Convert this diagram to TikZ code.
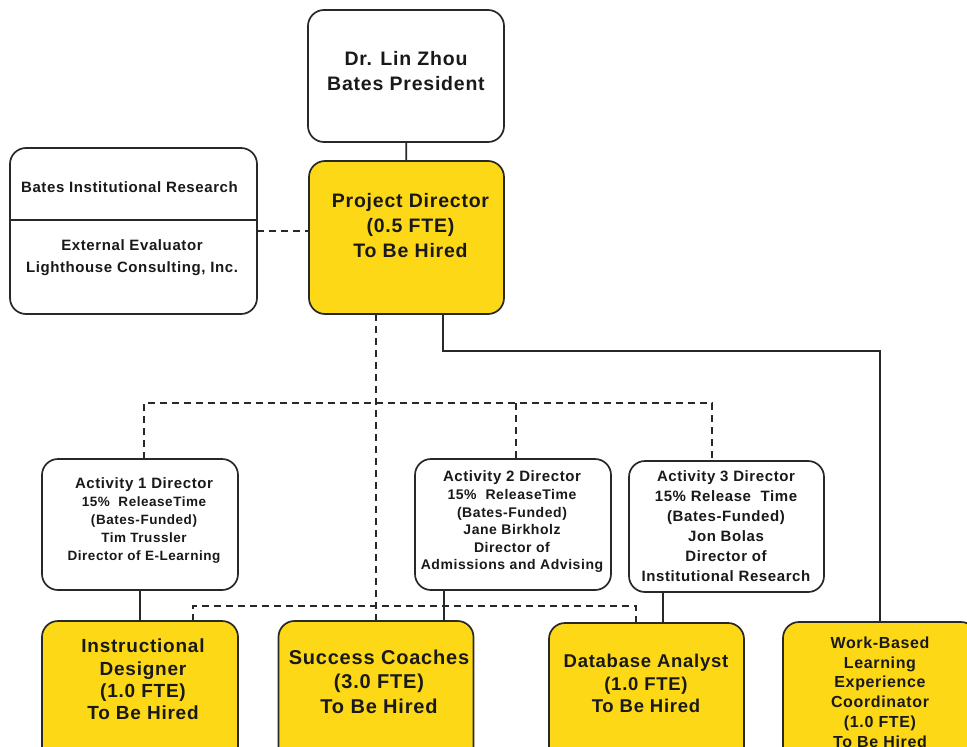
\documentclass[tikz,border=0pt]{standalone}
\usepackage{fontspec}
\setmainfont{Liberation Sans}[LetterSpace=4]
\definecolor{yel}{RGB}{253,216,22}
\definecolor{linec}{RGB}{40,40,40}
\definecolor{txtc}{RGB}{25,25,25}
\tikzset{
  box/.style={draw=linec, line width=1.7pt, rounded corners=16pt, fill=white, inner sep=0pt, outer sep=0pt},
  ybox/.style={box, fill=yel},
  txt/.style={align=center, inner sep=0pt, text=txtc, font=\bfseries},
  dline/.style={draw=linec, line width=1.8pt, dash pattern=on 7pt off 5pt},
  sline/.style={draw=linec, line width=1.7pt}
}
\newcommand{\fs}[2]{\fontsize{#1}{#2}\selectfont}
\begin{document}
\begin{tikzpicture}[x=1pt,y=-1pt]
\useasboundingbox[fill=white] (0,0) rectangle (967,747);
% boxes
\node[box,  minimum width=196pt, minimum height=132pt] (pres) at (406,76) {};
\node[ybox, minimum width=195pt, minimum height=153pt] (pd) at (406.5,237.5) {};
\node[box,  minimum width=247pt, minimum height=166pt] (ext) at (133.5,231) {};
\node[box,  minimum width=196pt, minimum height=131pt] (act1) at (140,524.5) {};
\node[box,  minimum width=196pt, minimum height=131pt] (act2) at (513,524.5) {};
\node[box,  minimum width=195pt, minimum height=131pt] (act3) at (726.5,526.5) {};
\node[ybox, minimum width=196pt, minimum height=159pt] (id) at (140,700.5) {};
\node[ybox, minimum width=195pt, minimum height=159pt] (sc) at (376,700.5) {};
\node[ybox, minimum width=195pt, minimum height=157pt] (da) at (646.5,701.5) {};
\node[ybox, minimum width=194pt, minimum height=158pt] (wb) at (880,701) {};
% divider in ext box
\coordinate (divl) at (10,220);
\coordinate (divr) at (257,220);
\draw[sline] (divl) -- (divr);
% texts
\node[txt, font=\bfseries\fs{19.5}{25}] (tpres) at (406,71.5) {Dr. Lin Zhou\\Bates President};
\node[txt, font=\bfseries\fs{19.5}{25}] (tpd) at (410.5,226) {Project Director\\(0.5 FTE)\\To Be Hired};
\node[txt, font=\bfseries\fs{15}{22}] (text1) at (129.5,187) {Bates Institutional Research};
\node[txt, font=\bfseries\fs{15}{22}] (text2) at (132,258) {External Evaluator\\Lighthouse Consulting, Inc.};
\node[txt, font=\bfseries\fs{13.5}{17.8}] (tact1) at (144,520.5) {{\fs{15}{17.8}Activity 1 Director}\\15\%\ \ ReleaseTime\\(Bates-Funded)\\Tim Trussler\\Director of E-Learning};
\node[txt, font=\bfseries\fs{14}{17.6}] (tact2) at (512,522) {{\fs{15}{17.6}Activity 2 Director}\\15\%\ \ ReleaseTime\\(Bates-Funded)\\Jane Birkholz\\Director of\\Admissions and Advising};
\node[txt, font=\bfseries\fs{15}{20}] (tact3) at (726,526) {Activity 3 Director\\15\%\ Release\ \ Time\\(Bates-Funded)\\Jon Bolas\\Director of\\Institutional Research};
\node[txt, font=\bfseries\fs{19}{22.3}] (tid) at (143,679.5) {Instructional\\Designer\\(1.0 FTE)\\To Be Hired};
\node[txt, font=\bfseries\fs{20}{24.5}] (tsc) at (379,681.5) {Success Coaches\\(3.0 FTE)\\To Be Hired};
\node[txt, font=\bfseries\fs{18.5}{22.5}] (tda) at (646,683.5) {Database Analyst\\(1.0 FTE)\\To Be Hired};
\node[txt, font=\bfseries\fs{16}{19.8}] (twb) at (880,692) {Work-Based\\Learning\\Experience\\Coordinator\\(1.0 FTE)\\To Be Hired};
% connectors
\draw[sline] (pres) -- (pd);
\draw[dline] (ext.east) -- (ext.east -| pd.west);
\draw[dline] (sc.north) -- (sc.north |- pd.south);
% dashed bus 1
\coordinate (b1l) at (144,403);
\coordinate (b1r) at (712,403);
\coordinate (b1m) at (516,403);
\draw[dline] (b1l |- act1.north) -- (b1l) -- (b1r) -- (b1r |- act3.north);
\draw[dline] (b1m) -- (b1m |- act2.north);
% solid to WB
\coordinate (w1) at (443,351);
\draw[sline] (w1 |- pd.south) -- (w1) -- (w1 -| wb.north) -- (wb.north);
% activity to hires
\draw[sline] (act1) -- (id);
\coordinate (a2d) at (444,600);
\draw[sline] (a2d |- act2.south) -- (a2d |- sc.north);
\coordinate (a3d) at (663,600);
\draw[sline] (a3d |- act3.south) -- (a3d |- da.north);
% dashed bus 2
\coordinate (b2l) at (193,606);
\coordinate (b2r) at (636,606);
\draw[dline] (b2l |- id.north) -- (b2l) -- (b2r) -- (b2r |- da.north);
\end{tikzpicture}
\end{document}
